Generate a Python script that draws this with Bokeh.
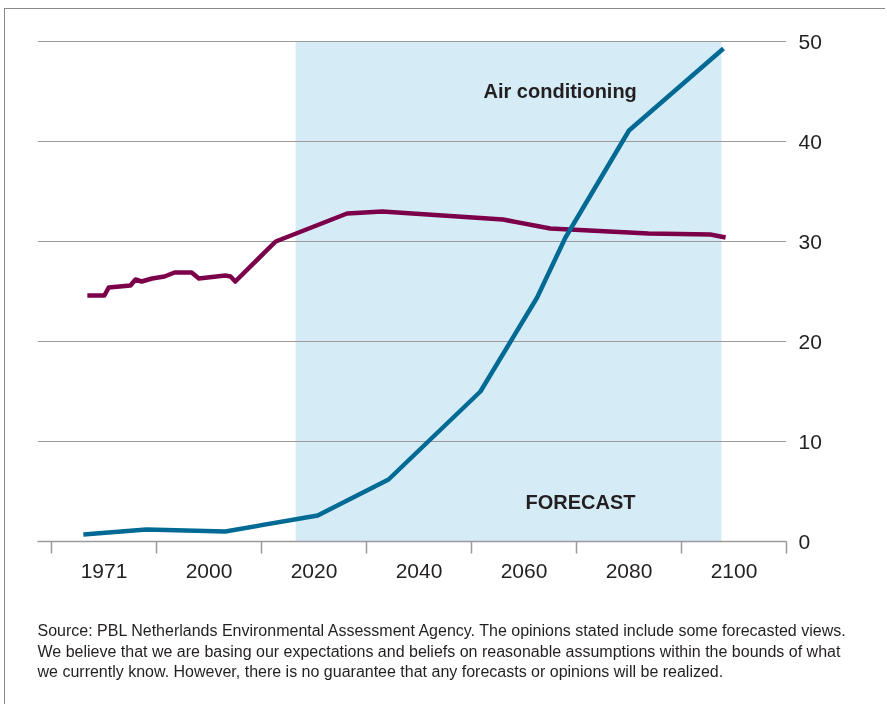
import numpy as np
from bokeh.plotting import figure
from bokeh.models import FixedTicker, BoxAnnotation, Label, Range1d, Title
from bokeh.embed import file_html
from bokeh.resources import INLINE

# ---- data ----
LABEL_YEARS = [1971, 2000, 2020, 2040, 2060, 2080, 2100]
LABEL_TEXT = ["1971", "2000", "2020", "2040", "2060", "2080", "2100"]
Y_TICKS = [0, 10, 20, 30, 40, 50]

AC_YEARS = [1965.3, 1982.7, 2003.1, 2020.7, 2034.2, 2051.7, 2062.5, 2067.9, 2080.0, 2098.0]
AC_VALUES = [0.7, 1.2, 1.0, 2.6, 6.2, 15.0, 24.4, 30.4, 41.1, 49.3]

OTHER_YEARS = [1966.4, 1971.1, 1972.3, 1978.3, 1979.7, 1981.4, 1984.3, 1987.7, 1990.5,
               1995.2, 1997.2, 2003.1, 2004.1, 2005.0, 2012.7, 2026.3, 2033.0, 2056.0,
               2065.0, 2083.7, 2095.5, 2098.4]
OTHER_VALUES = [24.6, 24.6, 25.4, 25.6, 26.2, 26.0, 26.3, 26.5, 26.9, 26.9, 26.3, 26.6,
                26.5, 26.0, 30.0, 32.8, 33.0, 32.2, 31.3, 30.8, 30.7, 30.4]

FORECAST_START = 2016.5
FORECAST_END = 2097.6
FORECAST_TOP = 50

SOURCE_LINES = [
    "Source: PBL Netherlands Environmental Assessment Agency. The opinions stated include some forecasted views.",
    "We believe that we are basing our expectations and beliefs on reasonable assumptions within the bounds of what",
    "we currently know. However, there is no guarantee that any forecasts or opinions will be realized.",
]

# ---- axis position: each labelled year sits in the centre of an equal slot ----
CENTERS = [2 * i + 1 for i in range(len(LABEL_YEARS))]


def pos(years):
    y = np.asarray(years, dtype=float)
    s = np.interp(y, LABEL_YEARS, CENTERS)
    lo = y < LABEL_YEARS[0]
    s[lo] = CENTERS[0] + (y[lo] - LABEL_YEARS[0]) * 2.0 / (LABEL_YEARS[1] - LABEL_YEARS[0])
    return s


TXT = "#231f20"
GRID = "#9a9a9a"
BLUE = "#006a94"
PURPLE = "#7c0049"
SHADE = "#d5ecf7"
FONT = "Liberation Sans"

X0, X1 = -0.2667, 14.0
Y0, Y1 = 0, 52

p = figure(width=881, height=710, output_backend="svg", toolbar_location=None,
           x_range=Range1d(X0, X1), y_range=Range1d(Y0, Y1),
           y_axis_location="right",
           min_border_left=32, min_border_right=100, min_border_top=12, min_border_bottom=146)
p.outline_line_color = None
p.background_fill_color = "white"
p.border_fill_color = "white"
p.styles = {"position": "fixed", "left": "4px", "top": "8px",
            "border-left": "1px solid #8a8a8a", "border-top": "1px solid #8a8a8a"}

box = BoxAnnotation(left=float(pos([FORECAST_START])[0]), right=float(pos([FORECAST_END])[0]),
                    top=FORECAST_TOP, fill_color=SHADE, fill_alpha=1.0, line_color=None,
                    level="image")
p.add_layout(box)

p.xgrid.visible = False
p.ygrid.grid_line_color = GRID
p.ygrid.grid_line_width = 1.2

xa = p.xaxis[0]
xa.ticker = FixedTicker(ticks=CENTERS, minor_ticks=list(range(0, 2 * len(LABEL_YEARS) + 1, 2)))
xa.major_label_overrides = {c: t for c, t in zip(CENTERS, LABEL_TEXT)}
xa.major_tick_out = 0
xa.major_tick_in = 0
xa.minor_tick_out = 12
xa.minor_tick_in = 0
xa.minor_tick_line_color = GRID
xa.minor_tick_line_width = 1.5
xa.axis_line_color = GRID
xa.axis_line_width = 1.5
xa.major_label_standoff = 10
xa.major_label_text_font = FONT
xa.major_label_text_font_size = "21px"
xa.major_label_text_color = TXT

ya = p.yaxis[0]
ya.ticker = FixedTicker(ticks=Y_TICKS)
ya.major_tick_out = 0
ya.major_tick_in = 0
ya.minor_tick_out = 0
ya.minor_tick_in = 0
ya.axis_line_color = None
ya.major_label_standoff = 12
ya.major_label_text_font = FONT
ya.major_label_text_font_size = "21px"
ya.major_label_text_color = TXT

p.line(pos(OTHER_YEARS), OTHER_VALUES, line_color=PURPLE, line_width=4.5, line_join="round")
p.line(pos(AC_YEARS), AC_VALUES, line_color=BLUE, line_width=4.5, line_join="round")

p.add_layout(Label(x=8.229, y=45.1, text="Air conditioning", text_font=FONT,
                   text_font_size="20px", text_font_style="bold", text_color=TXT,
                   text_baseline="alphabetic", text_align="left"))
p.add_layout(Label(x=9.029, y=3.99, text="FORECAST", text_font=FONT,
                   text_font_size="20px", text_font_style="bold", text_color=TXT,
                   text_baseline="alphabetic", text_align="left"))

p.add_layout(Title(text="\n".join(SOURCE_LINES), align="left", text_font=FONT,
                   text_font_size="16px", text_font_style="normal", text_color=TXT,
                   text_line_height=1.2, standoff=79), "below")

open("out.html", "w").write(file_html(p, INLINE))
